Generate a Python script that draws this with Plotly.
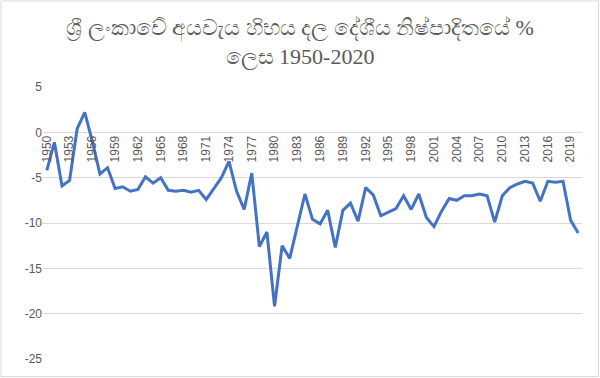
import plotly.graph_objects as go

years = list(range(1950, 2021))
deficit = [
    -4.2, -1.1, -5.9, -5.3, 0.4, 2.2, -1.0, -4.6, -3.9, -6.2,
    -6.0, -6.5, -6.3, -4.9, -5.6, -5.0, -6.4, -6.5, -6.4, -6.6,
    -6.4, -7.4, -6.2, -5.0, -3.2, -6.5, -8.5, -4.5, -12.6, -11.0,
    -19.2, -12.5, -13.9, -10.5, -6.8, -9.6, -10.1, -8.6, -12.7, -8.6,
    -7.8, -9.8, -6.1, -6.9, -9.2, -8.8, -8.4, -7.0, -8.5, -6.8,
    -9.4, -10.4, -8.7, -7.3, -7.5, -7.0, -7.0, -6.8, -7.0, -9.9,
    -7.0, -6.1, -5.7, -5.4, -5.6, -7.6, -5.4, -5.5, -5.4, -9.7,
    -11.1,
]
x_tick_years = list(range(1950, 2021, 3))
y_tick_vals = [5, 0, -5, -10, -15, -20, -25]
y_tick_text = ["5", "0", "-5", "-10", "-15", "-20", "-25"]
title_line1 = "ශ්‍රී ලංකාවේ අයවැය හිභය දල දේශීය නිෂ්පාදිතයේ"
title_line2_word = "ලෙස"
title_years = "1950-2020"

serif_span = "<span style='font-family:Liberation Serif'>{}</span>"
title_text = (title_line1 + " " + serif_span.format("%") + "<br>"
              + title_line2_word + " " + serif_span.format(title_years))

W, H = 600, 378
ml, mr, mt, mb = 43, 18, 87, 19
pw, ph = W - ml - mr, H - mt - mb

fig = go.Figure()
fig.add_trace(go.Scatter(
    x=years, y=deficit, mode="lines",
    line=dict(color="#4472C4", width=3),
    showlegend=False,
))

ymin, ymax = -25, 5
fig.update_layout(
    width=W, height=H,
    margin=dict(l=ml, r=mr, t=mt, b=mb, autoexpand=False),
    paper_bgcolor="white", plot_bgcolor="white",
    title=dict(
        text=title_text, x=0.5, xanchor="center", xref="container",
        y=1 - 35 / H, yanchor="middle", yref="container",
        font=dict(family="Liberation Serif", size=22, color="#595959"),
        automargin=False,
    ),
    xaxis=dict(
        range=[1949.5, 2020.5],
        tickvals=x_tick_years,
        ticktext=[str(v) for v in x_tick_years],
        tickangle=-90,
        showgrid=False, zeroline=False, showline=False,
        anchor="free", position=(0 - ymin) / (ymax - ymin),
        ticks="", automargin=False,
        tickfont=dict(family="Liberation Sans", size=12, color="#595959"),
    ),
    yaxis=dict(
        range=[ymin, ymax],
        tickvals=y_tick_vals, ticktext=y_tick_text,
        showgrid=True, gridcolor="#d9d9d9", gridwidth=1,
        zeroline=False, showline=False, ticks="", automargin=False,
        tickfont=dict(family="Liberation Sans", size=12, color="#595959"),
    ),
    shapes=[dict(
        type="rect", xref="paper", yref="paper",
        x0=(1 - ml) / pw, x1=(W - 1.5 - ml) / pw,
        y0=(H - mb - (H - 1.5)) / ph, y1=(H - mb - 1) / ph,
        line=dict(color="#d9d9d9", width=1), fillcolor="rgba(0,0,0,0)",
        layer="below",
    )],
)

fig.write_html("out.html", config={"displayModeBar": False},
               post_script="document.body.style.margin='0';")
